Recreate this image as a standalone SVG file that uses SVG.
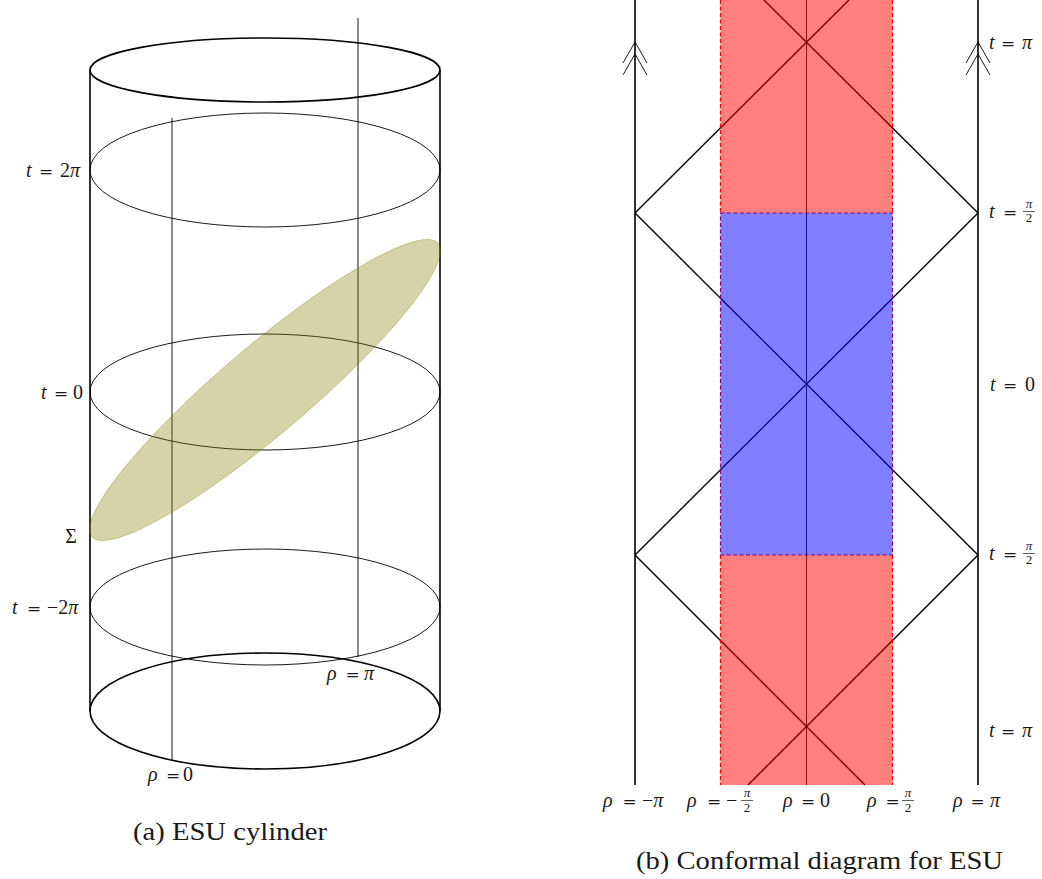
<svg xmlns="http://www.w3.org/2000/svg" width="1042" height="879" viewBox="0 0 1042 879">
<style>
.thick{fill:none;stroke:#000;stroke-width:1.6}
.thin{fill:none;stroke:#000;stroke-width:0.9}
.dia{fill:none;stroke:#000;stroke-width:1.4}
text{font-family:"Liberation Serif","DejaVu Serif",serif;fill:#1a1a1a}
.m{font-size:20px}
.it{font-style:italic}
.eq{text-anchor:middle;font-family:"DejaVu Serif","Liberation Serif",serif;font-size:17px}
.sm{font-size:13px;text-anchor:middle}
.cap{font-size:25px}
.bar{stroke:#1a1a1a;stroke-width:0.7}
.rd{stroke:#ff0000;stroke-width:1.2;stroke-dasharray:4 2.5}
</style>
<rect width="1042" height="879" fill="#fff"/>
<!-- (a) ESU cylinder -->
<g id="cylinder">
  <line class="thick" x1="90" y1="70" x2="90" y2="711"/>
  <line class="thick" x1="440" y1="70" x2="440" y2="711"/>
  <ellipse class="thick" cx="265" cy="70" rx="175" ry="32"/>
  <ellipse class="thick" cx="265" cy="711" rx="175" ry="58"/>
  <ellipse class="thin" cx="265" cy="170" rx="175" ry="57"/>
  <ellipse class="thin" cx="265" cy="392" rx="175" ry="58"/>
  <ellipse class="thin" cx="265" cy="607" rx="175" ry="58"/>
  <line class="thin" x1="172" y1="118" x2="172" y2="760"/>
  <line class="thin" x1="358" y1="18" x2="358" y2="657"/>
</g>
<g id="sigma">
  <ellipse cx="265" cy="390" rx="227" ry="44" transform="rotate(-40.3 265 390)" fill="olive" fill-opacity="0.34" stroke="olive" stroke-opacity="0.4" stroke-width="0.8"/>
</g>
<g id="cyl-labels">
  <text class="m it" x="26" y="177">t</text><text class="m eq" x="46" y="177">=</text><text class="m" x="60" y="177">2<tspan class="it">π</tspan></text>
  <text class="m it" x="41" y="399">t</text><text class="m eq" x="61" y="399">=</text><text class="m" x="73" y="399">0</text>
  <text class="m it" x="12" y="614">t</text><text class="m eq" x="34" y="614">=</text><text class="m" x="47" y="614">−2<tspan class="it">π</tspan></text>
  <text class="m" x="71" y="543" text-anchor="middle">Σ</text>
  <text class="m it" x="327" y="680">ρ</text><text class="m eq" x="352.5" y="680">=</text><text class="m it" x="364" y="680">π</text>
  <text class="m it" x="148" y="781">ρ</text><text class="m eq" x="173" y="781">=</text><text class="m" x="183" y="781">0</text>
  <text class="cap" x="133" y="840" textLength="194" lengthAdjust="spacingAndGlyphs">(a) ESU cylinder</text>
</g>
<!-- (b) Conformal diagram -->
<g id="diagram-lines">
  <line class="thin" x1="806.5" y1="0" x2="806.5" y2="785"/>
  <line class="dia" x1="764" y1="0" x2="978" y2="213"/>
  <line class="dia" x1="849" y1="0" x2="635" y2="213"/>
  <line class="dia" x1="635" y1="213" x2="978" y2="555"/>
  <line class="dia" x1="978" y1="213" x2="635" y2="555"/>
  <line class="dia" x1="635" y1="555" x2="865" y2="785"/>
  <line class="dia" x1="978" y1="555" x2="748" y2="785"/>
</g>
<g id="regions">
  <rect x="720.5" y="0" width="172" height="213" fill="#ff0000" fill-opacity="0.5"/>
  <rect x="720.5" y="555" width="172" height="230" fill="#ff0000" fill-opacity="0.5"/>
  <rect x="720.5" y="213" width="172" height="342" fill="#0000ff" fill-opacity="0.5"/>
  <line class="rd" x1="720.5" y1="0" x2="720.5" y2="213"/>
  <line class="rd" x1="892.5" y1="0" x2="892.5" y2="213"/>
  <line class="rd" x1="720.5" y1="555" x2="720.5" y2="785"/>
  <line class="rd" x1="892.5" y1="555" x2="892.5" y2="785"/>
  <rect x="720.5" y="213" width="172" height="342" fill="none" stroke="#800080" stroke-width="1.2" stroke-dasharray="4 2.5"/>
</g>
<g id="boundaries">
  <line class="thick" x1="635" y1="0" x2="635" y2="785"/>
  <line class="thick" x1="978" y1="0" x2="978" y2="785"/>
  <polyline class="thin" points="623,63 635,42 647,63"/>
  <polyline class="thin" points="623,75 635,54 647,75"/>
  <polyline class="thin" points="966,63 978,42 990,63"/>
  <polyline class="thin" points="966,75 978,54 990,75"/>
</g>
<g id="t-labels">
  <text class="m it" x="989" y="49">t</text><text class="m eq" x="1008" y="49">=</text><text class="m it" x="1022" y="49">π</text>
  <text class="m it" x="989" y="218">t</text><text class="m eq" x="1010" y="218">=</text>
  <text class="sm it" x="1029" y="208">π</text>
  <line class="bar" x1="1023" y1="211.5" x2="1035" y2="211.5"/>
  <text class="sm" x="1029" y="222">2</text>
  <text class="m it" x="990" y="391">t</text><text class="m eq" x="1010" y="391">=</text><text class="m" x="1025" y="391">0</text>
  <text class="m it" x="989" y="560">t</text><text class="m eq" x="1010" y="560">=</text>
  <text class="sm it" x="1029" y="550">π</text>
  <line class="bar" x1="1023" y1="553.5" x2="1035" y2="553.5"/>
  <text class="sm" x="1029" y="564">2</text>
  <text class="m it" x="989" y="737">t</text><text class="m eq" x="1008" y="737">=</text><text class="m it" x="1022" y="737">π</text>
</g>
<g id="rho-labels">
  <text class="m it" x="603" y="807">ρ</text><text class="m eq" x="629.5" y="807">=</text><text class="m" x="642" y="807">−<tspan class="it">π</tspan></text>
  <text class="m it" x="687" y="807">ρ</text><text class="m eq" x="714" y="807">=</text><text class="m" x="726" y="807">−</text>
  <text class="sm it" x="747" y="797">π</text>
  <line class="bar" x1="741" y1="800.5" x2="753" y2="800.5"/>
  <text class="sm" x="747" y="812">2</text>
  <text class="m it" x="783" y="807">ρ</text><text class="m eq" x="808" y="807">=</text><text class="m" x="820" y="807">0</text>
  <text class="m it" x="867" y="807">ρ</text><text class="m eq" x="892.5" y="807">=</text>
  <text class="sm it" x="908" y="797">π</text>
  <line class="bar" x1="902" y1="800.5" x2="914" y2="800.5"/>
  <text class="sm" x="908" y="812">2</text>
  <text class="m it" x="953" y="807">ρ</text><text class="m eq" x="977.5" y="807">=</text><text class="m it" x="990" y="807">π</text>
  <text class="cap" x="636" y="869" textLength="367" lengthAdjust="spacingAndGlyphs">(b) Conformal diagram for ESU</text>
</g>
</svg>
